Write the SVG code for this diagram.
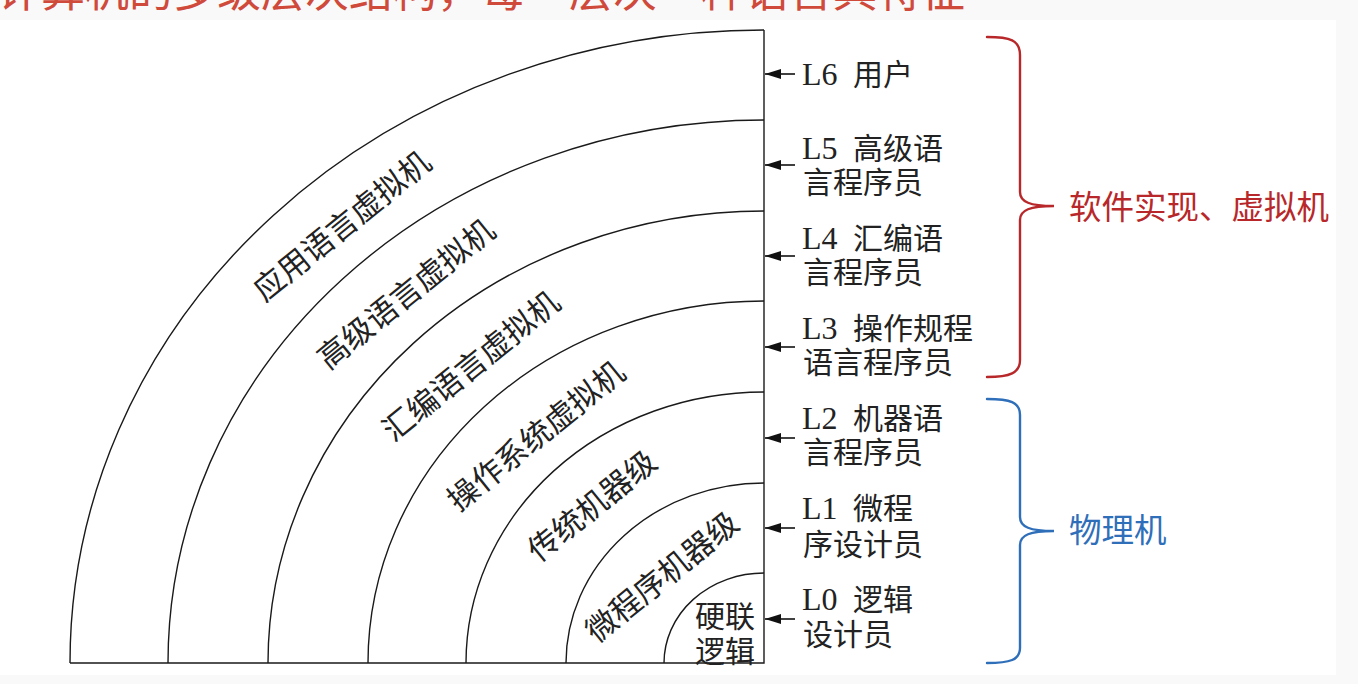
<svg xmlns="http://www.w3.org/2000/svg" width="1358" height="684" viewBox="0 0 1358 684">
<style>
.arc{fill:none;stroke:#1a1a1a;stroke-width:1.4}
.lbl{font-family:"Liberation Serif","Noto Sans CJK SC",serif;font-size:30px;fill:#222}
.lat{font-size:32px}
.band{font-family:"Liberation Serif","Noto Sans CJK SC",serif;font-size:31px;fill:#222;text-anchor:middle}
.arr{stroke:#111;stroke-width:1.6}
.brace{fill:none;stroke-width:2.4;stroke-linecap:round}
</style>
<defs>
<marker id="ah" markerWidth="16" markerHeight="10" refX="16" refY="5" orient="auto" markerUnits="userSpaceOnUse"><path d="M0,0 L16,5 L0,10 z" fill="#111"/></marker>
</defs>
<rect x="0" y="0" width="1358" height="684" fill="#f9f9f9"/>
<rect x="0" y="20" width="1336" height="655" fill="#ffffff"/>
<text x="-3" y="7" font-family="'Noto Sans CJK SC',sans-serif" font-size="44" fill="#d04a3c">计算机的多级层次结构，每一层次一种语言具特征</text>

<g id="arcs">
<path class="arc" d="M70 663 H764 V30"/>
<path class="arc" d="M70 663 A694 633 0 0 1 764 30"/>
<path class="arc" d="M168 663 A596 543 0 0 1 764 120"/>
<path class="arc" d="M268 663 A496 452 0 0 1 764 211"/>
<path class="arc" d="M368 663 A396 362 0 0 1 764 301"/>
<path class="arc" d="M466 663 A298 271 0 0 1 764 392"/>
<path class="arc" d="M566 663 A198 180 0 0 1 764 483"/>
<path class="arc" d="M664 663 A100 90 0 0 1 764 573"/>
</g>

<g id="band-labels">
<text class="band" transform="translate(342,226) rotate(-39)" y="11">应用语言虚拟机</text>
<text class="band" transform="translate(406,294) rotate(-39)" y="11">高级语言虚拟机</text>
<text class="band" transform="translate(471,366) rotate(-39)" y="11">汇编语言虚拟机</text>
<text class="band" transform="translate(536,436) rotate(-39)" y="11">操作系统虚拟机</text>
<text class="band" transform="translate(592,506) rotate(-39)" y="11">传统机器级</text>
<text class="band" transform="translate(662,577) rotate(-39)" y="11">微程序机器级</text>
<text class="lbl" x="695" y="627">硬联</text>
<text class="lbl" x="695" y="662">逻辑</text>
</g>

<g id="connectors">
<line class="arr" x1="795" y1="74" x2="765" y2="74" marker-end="url(#ah)"/>
<line class="arr" x1="795" y1="165" x2="765" y2="165" marker-end="url(#ah)"/>
<line class="arr" x1="795" y1="256" x2="765" y2="256" marker-end="url(#ah)"/>
<line class="arr" x1="795" y1="347" x2="765" y2="347" marker-end="url(#ah)"/>
<line class="arr" x1="795" y1="438" x2="765" y2="438" marker-end="url(#ah)"/>
<line class="arr" x1="795" y1="528" x2="765" y2="528" marker-end="url(#ah)"/>
<line class="arr" x1="795" y1="619" x2="765" y2="619" marker-end="url(#ah)"/>
</g>

<g id="L6"><text class="lbl" x="802" y="85"><tspan class="lat">L6</tspan><tspan x="853">用户</tspan></text></g>
<g id="L5"><text class="lbl" x="802" y="159"><tspan class="lat">L5</tspan><tspan x="853">高级语</tspan></text><text class="lbl" x="803" y="193">言程序员</text></g>
<g id="L4"><text class="lbl" x="802" y="249"><tspan class="lat">L4</tspan><tspan x="853">汇编语</tspan></text><text class="lbl" x="803" y="283">言程序员</text></g>
<g id="L3"><text class="lbl" x="802" y="339"><tspan class="lat">L3</tspan><tspan x="853">操作规程</tspan></text><text class="lbl" x="803" y="373">语言程序员</text></g>
<g id="L2"><text class="lbl" x="802" y="429"><tspan class="lat">L2</tspan><tspan x="853">机器语</tspan></text><text class="lbl" x="803" y="463">言程序员</text></g>
<g id="L1"><text class="lbl" x="802" y="519"><tspan class="lat">L1</tspan><tspan x="853">微程</tspan></text><text class="lbl" x="803" y="555">序设计员</text></g>
<g id="L0"><text class="lbl" x="802" y="610"><tspan class="lat">L0</tspan><tspan x="853">逻辑</tspan></text><text class="lbl" x="803" y="645">设计员</text></g>

<g id="soft-brace">
<path class="brace" stroke="#b8282a" d="M987 37 C1010 37 1020 40 1020 55 L1020 192 C1020 202 1030 206 1054 206 C1030 206 1020 210 1020 220 L1020 360 C1020 373 1010 377 987 377"/>
<text x="1069" y="219" font-family="'Noto Sans CJK SC',sans-serif" font-size="32.5" fill="#b8282a">软件实现、虚拟机</text>
</g>
<g id="phys-brace">
<path class="brace" stroke="#2f6fba" d="M987 399 C1010 399 1020 402 1020 415 L1020 517 C1020 527 1030 531 1054 531 C1030 531 1020 535 1020 545 L1020 648 C1020 660 1010 663 987 663"/>
<text x="1069" y="542" font-family="'Noto Sans CJK SC',sans-serif" font-size="32.5" fill="#2f6fba">物理机</text>
</g>
</svg>
